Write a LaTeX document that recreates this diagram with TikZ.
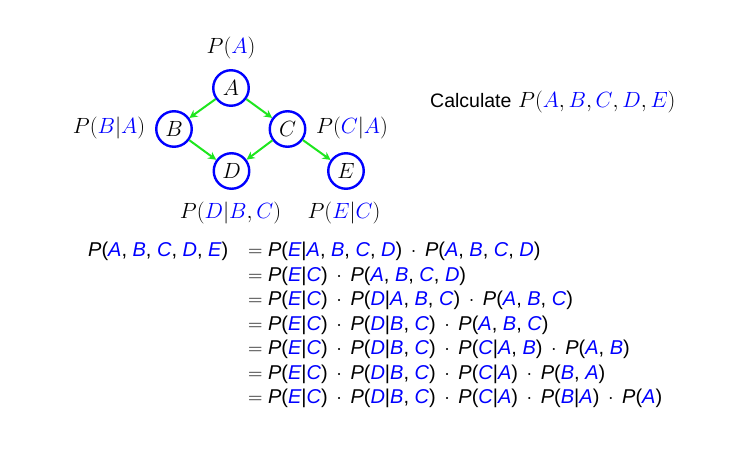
\RequirePackage{fix-cm}
\documentclass[tikz,border=0pt]{standalone}
\usepackage{fontspec}
\newfontfamily\eqfont{Liberation Sans}
\usetikzlibrary{arrows.meta}
\definecolor{nblue}{RGB}{0,0,255}
\definecolor{agreen}{RGB}{30,230,30}
\newcommand{\bl}[1]{\textcolor{nblue}{#1}}
\newcommand{\V}[1]{\textcolor{nblue}{\itshape #1}}
\newcommand{\Pp}{{\itshape P}}
\newcommand{\dd}{\hspace{8.6pt}$\cdot$\hspace{8.6pt}}
\begin{document}
\begin{tikzpicture}[x=1pt,y=-1pt,
  var/.style={circle, draw=nblue, line width=2.4pt, minimum size=35.5pt, inner sep=0pt, font=\fontsize{22}{26}\selectfont},
  edge/.style={draw=agreen, line width=2pt, -{Stealth[length=8pt,width=8pt]}},
  lbl/.style={font=\fontsize{22}{26}\selectfont, inner sep=0pt},
  eq/.style={anchor=base west, inner sep=0pt, font=\fontsize{20}{24}\selectfont\eqfont}]
\useasboundingbox (0,0) rectangle (745,458);
% network
\node[var] (A) at (231,88) {$A$};
\node[var] (B) at (174,129) {$B$};
\node[var] (C) at (287.5,129) {$C$};
\node[var] (D) at (231.5,171) {$D$};
\node[var] (E) at (346,171) {$E$};
\draw[edge] (A) -- (B);
\draw[edge] (A) -- (C);
\draw[edge] (B) -- (D);
\draw[edge] (C) -- (D);
\draw[edge] (C) -- (E);
% factor labels
\node[lbl] (pA) at (231,48) {$P(\bl{A})$};
\node[lbl] (pB) at (109,128) {$P(\bl{B}|\bl{A})$};
\node[lbl] (pC) at (352,128) {$P(\bl{C}|\bl{A})$};
\node[lbl] (pD) at (230.5,213) {$P(\bl{D}|\bl{B},\bl{C})$};
\node[lbl] (pE) at (344,213) {$P(\bl{E}|\bl{C})$};
% question
\node[lbl, anchor=base west] (q) at (430,107) {{\fontsize{19.5}{24}\selectfont\eqfont Calculate} $P(\bl{A},\bl{B},\bl{C},\bl{D},\bl{E})$};
% derivation
\node[eq] (lhs) at (88,256.5) {\Pp(\V{A}, \V{B}, \V{C}, \V{D}, \V{E})};
\node[eq] (r1) at (248,256.5) {$=$ \Pp(\V{E}|\V{A}, \V{B}, \V{C}, \V{D})\dd\Pp(\V{A}, \V{B}, \V{C}, \V{D})};
\node[eq] (r2) at (248,281) {$=$ \Pp(\V{E}|\V{C})\dd\Pp(\V{A}, \V{B}, \V{C}, \V{D})};
\node[eq] (r3) at (248,305.5) {$=$ \Pp(\V{E}|\V{C})\dd\Pp(\V{D}|\V{A}, \V{B}, \V{C})\dd\Pp(\V{A}, \V{B}, \V{C})};
\node[eq] (r4) at (248,330) {$=$ \Pp(\V{E}|\V{C})\dd\Pp(\V{D}|\V{B}, \V{C})\dd\Pp(\V{A}, \V{B}, \V{C})};
\node[eq] (r5) at (248,354.5) {$=$ \Pp(\V{E}|\V{C})\dd\Pp(\V{D}|\V{B}, \V{C})\dd\Pp(\V{C}|\V{A}, \V{B})\dd\Pp(\V{A}, \V{B})};
\node[eq] (r6) at (248,379) {$=$ \Pp(\V{E}|\V{C})\dd\Pp(\V{D}|\V{B}, \V{C})\dd\Pp(\V{C}|\V{A})\dd\Pp(\V{B}, \V{A})};
\node[eq] (r7) at (248,403.5) {$=$ \Pp(\V{E}|\V{C})\dd\Pp(\V{D}|\V{B}, \V{C})\dd\Pp(\V{C}|\V{A})\dd\Pp(\V{B}|\V{A})\dd\Pp(\V{A})};
\end{tikzpicture}
\end{document}
